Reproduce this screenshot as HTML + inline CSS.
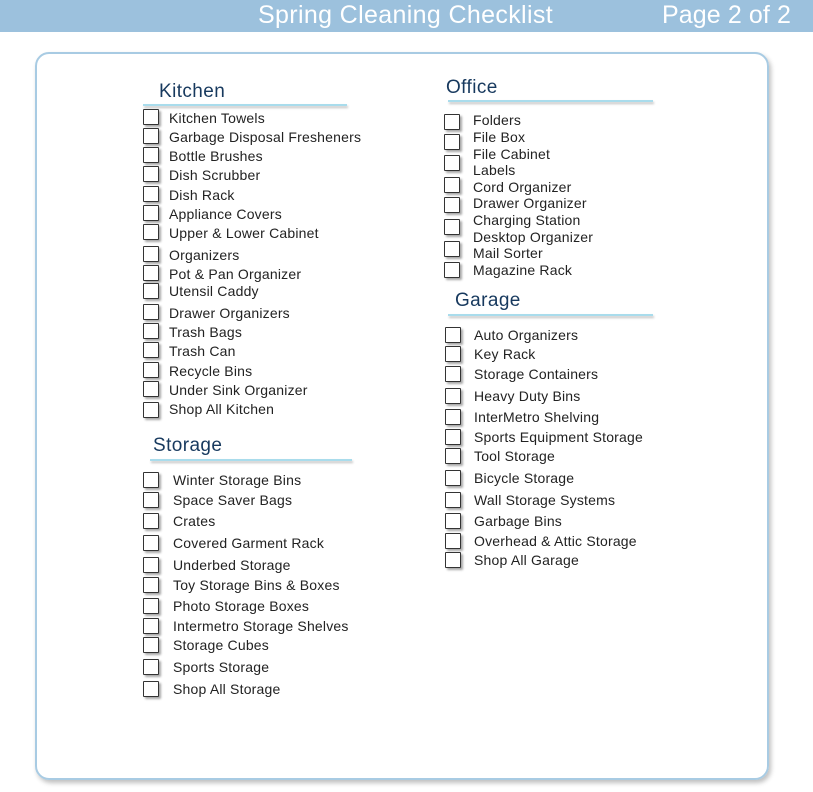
<!DOCTYPE html>
<html><head><meta charset="utf-8"><style>
body{margin:0;width:813px;height:792px;background:#fff;position:relative;overflow:hidden;font-family:"Liberation Sans",sans-serif}
.hdr{position:absolute;left:0;top:0;width:813px;height:32px;background:#9cc1dd}
.t{position:absolute;color:#fff;font-size:25px;top:1px;letter-spacing:0.2px}
.panel{position:absolute;left:35px;top:52px;width:730px;height:724px;border:2px solid #a8cbe3;border-radius:14px;box-shadow:2px 3px 5px rgba(0,0,0,0.25)}
.h{position:absolute;font-size:19px;color:#17395e;letter-spacing:0.4px}
.u{position:absolute;height:2px;background:#a9dcec;box-shadow:1px 2px 2px rgba(0,0,0,0.25)}
.i{position:absolute;font-size:14px;color:#222;line-height:16px;white-space:nowrap;letter-spacing:0.2px}
.b{position:absolute;width:14px;height:14px;border:1.5px solid #333;border-radius:1px;box-shadow:2px 2px 2px rgba(0,0,0,0.35);background:#fff}
</style></head><body>
<div class="hdr"></div>
<div class="t" style="left:258px;letter-spacing:0.35px">Spring Cleaning Checklist</div>
<div class="t" style="left:662px;letter-spacing:0.1px">Page 2 of 2</div>
<div class="panel"></div>

<div class="h" style="left:159px;top:81px">Kitchen</div><div class="u" style="left:143px;top:104px;width:204px"></div>
<div class="h" style="left:153px;top:435px">Storage</div><div class="u" style="left:150px;top:459px;width:202px"></div>
<div class="h" style="left:446px;top:77px">Office</div><div class="u" style="left:448px;top:100px;width:205px"></div>
<div class="h" style="left:455px;top:290px">Garage</div><div class="u" style="left:448px;top:314px;width:205px"></div>

<!-- Kitchen -->
<div class="b" style="left:143px;top:109px"></div><div class="i" style="left:169px;top:110px">Kitchen Towels</div>
<div class="b" style="left:143px;top:128px"></div><div class="i" style="left:169px;top:129px">Garbage Disposal Fresheners</div>
<div class="b" style="left:143px;top:147px"></div><div class="i" style="left:169px;top:148px">Bottle Brushes</div>
<div class="b" style="left:143px;top:166px"></div><div class="i" style="left:169px;top:167px">Dish Scrubber</div>
<div class="b" style="left:143px;top:186px"></div><div class="i" style="left:169px;top:187px">Dish Rack</div>
<div class="b" style="left:143px;top:205px"></div><div class="i" style="left:169px;top:206px">Appliance Covers</div>
<div class="b" style="left:143px;top:224px"></div><div class="i" style="left:169px;top:225px">Upper &amp; Lower Cabinet</div>
<div class="b" style="left:143px;top:246px"></div><div class="i" style="left:169px;top:247px">Organizers</div>
<div class="b" style="left:143px;top:265px"></div><div class="i" style="left:169px;top:266px">Pot &amp; Pan Organizer</div>
<div class="b" style="left:143px;top:283px"></div><div class="i" style="left:169px;top:283px">Utensil Caddy</div>
<div class="b" style="left:143px;top:304px"></div><div class="i" style="left:169px;top:305px">Drawer Organizers</div>
<div class="b" style="left:143px;top:323px"></div><div class="i" style="left:169px;top:324px">Trash Bags</div>
<div class="b" style="left:143px;top:342px"></div><div class="i" style="left:169px;top:343px">Trash Can</div>
<div class="b" style="left:143px;top:362px"></div><div class="i" style="left:169px;top:363px">Recycle Bins</div>
<div class="b" style="left:143px;top:381px"></div><div class="i" style="left:169px;top:382px">Under Sink Organizer</div>
<div class="b" style="left:143px;top:402px"></div><div class="i" style="left:169px;top:401px">Shop All Kitchen</div>

<!-- Storage -->
<div class="b" style="left:143px;top:472px"></div><div class="i" style="left:173px;top:472px">Winter Storage Bins</div>
<div class="b" style="left:143px;top:492px"></div><div class="i" style="left:173px;top:492px">Space Saver Bags</div>
<div class="b" style="left:143px;top:513px"></div><div class="i" style="left:173px;top:513px">Crates</div>
<div class="b" style="left:143px;top:535px"></div><div class="i" style="left:173px;top:535px">Covered Garment Rack</div>
<div class="b" style="left:143px;top:557px"></div><div class="i" style="left:173px;top:557px">Underbed Storage</div>
<div class="b" style="left:143px;top:577px"></div><div class="i" style="left:173px;top:577px">Toy Storage Bins &amp; Boxes</div>
<div class="b" style="left:143px;top:598px"></div><div class="i" style="left:173px;top:598px">Photo Storage Boxes</div>
<div class="b" style="left:143px;top:618px"></div><div class="i" style="left:173px;top:618px">Intermetro Storage Shelves</div>
<div class="b" style="left:143px;top:637px"></div><div class="i" style="left:173px;top:637px">Storage Cubes</div>
<div class="b" style="left:143px;top:659px"></div><div class="i" style="left:173px;top:659px">Sports Storage</div>
<div class="b" style="left:143px;top:681px"></div><div class="i" style="left:173px;top:681px">Shop All Storage</div>

<!-- Office -->
<div class="b" style="left:444px;top:114px"></div><div class="i" style="left:473px;top:112px">Folders</div>
<div class="b" style="left:444px;top:134px"></div><div class="i" style="left:473px;top:129px">File Box</div>
<div class="b" style="left:444px;top:155px"></div><div class="i" style="left:473px;top:146px">File Cabinet</div>
<div class="i" style="left:473px;top:162px">Labels</div>
<div class="b" style="left:444px;top:177px"></div><div class="i" style="left:473px;top:179px">Cord Organizer</div>
<div class="b" style="left:444px;top:197px"></div><div class="i" style="left:473px;top:195px">Drawer Organizer</div>
<div class="b" style="left:444px;top:219px"></div><div class="i" style="left:473px;top:212px">Charging Station</div>
<div class="b" style="left:444px;top:241px"></div><div class="i" style="left:473px;top:229px">Desktop Organizer</div>
<div class="i" style="left:473px;top:245px">Mail Sorter</div>
<div class="b" style="left:444px;top:262px"></div><div class="i" style="left:473px;top:262px">Magazine Rack</div>

<!-- Garage -->
<div class="b" style="left:445px;top:327px"></div><div class="i" style="left:474px;top:327px">Auto Organizers</div>
<div class="b" style="left:445px;top:346px"></div><div class="i" style="left:474px;top:346px">Key Rack</div>
<div class="b" style="left:445px;top:366px"></div><div class="i" style="left:474px;top:366px">Storage Containers</div>
<div class="b" style="left:445px;top:388px"></div><div class="i" style="left:474px;top:388px">Heavy Duty Bins</div>
<div class="b" style="left:445px;top:409px"></div><div class="i" style="left:474px;top:409px">InterMetro Shelving</div>
<div class="b" style="left:445px;top:429px"></div><div class="i" style="left:474px;top:429px">Sports Equipment Storage</div>
<div class="b" style="left:445px;top:448px"></div><div class="i" style="left:474px;top:448px">Tool Storage</div>
<div class="b" style="left:445px;top:470px"></div><div class="i" style="left:474px;top:470px">Bicycle Storage</div>
<div class="b" style="left:445px;top:492px"></div><div class="i" style="left:474px;top:492px">Wall Storage Systems</div>
<div class="b" style="left:445px;top:513px"></div><div class="i" style="left:474px;top:513px">Garbage Bins</div>
<div class="b" style="left:445px;top:533px"></div><div class="i" style="left:474px;top:533px">Overhead &amp; Attic Storage</div>
<div class="b" style="left:445px;top:552px"></div><div class="i" style="left:474px;top:552px">Shop All Garage</div>
</body></html>
